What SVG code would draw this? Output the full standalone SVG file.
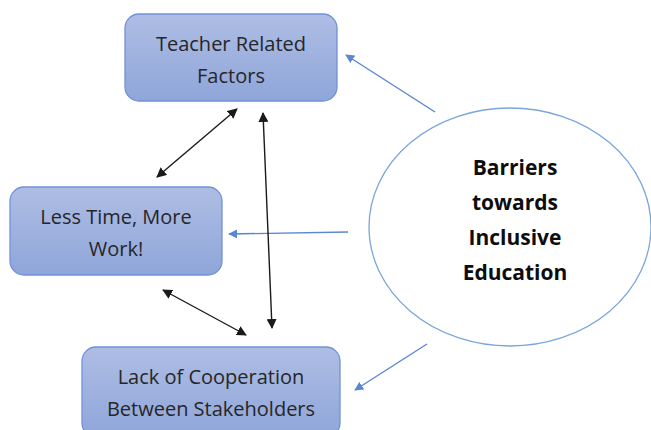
<svg xmlns="http://www.w3.org/2000/svg" width="651" height="430" viewBox="0 0 651 430">
  <style>
    .box { fill: url(#boxFill); stroke: #7092d6; stroke-width: 1.3; }
    .lbl { font-family: "Open Sans", "Liberation Sans", sans-serif; font-size: 20px; fill: #262626; text-anchor: middle; }
    .hub { font-family: "Open Sans", "Liberation Sans", sans-serif; font-size: 21px; font-weight: bold; fill: #0d0d0d; text-anchor: middle; }
    .blue { stroke: #5b86d1; stroke-width: 1.4; fill: none; marker-end: url(#blueHead); }
    .black { stroke: #1a1a1a; stroke-width: 1.4; fill: none; marker-start: url(#blackTail); marker-end: url(#blackHead); }
  </style>
  <defs>
    <linearGradient id="boxFill" x1="0" y1="0" x2="0" y2="1">
      <stop offset="0" stop-color="#aebde4"/>
      <stop offset="1" stop-color="#8fa6da"/>
    </linearGradient>
    <marker id="blueHead" viewBox="0 0 10 10" refX="9" refY="5" markerWidth="9" markerHeight="9" markerUnits="userSpaceOnUse" orient="auto">
      <path d="M0,0 L10,5 L0,10 z" fill="#5b86d1"/>
    </marker>
    <marker id="blackHead" viewBox="0 0 10 10" refX="9" refY="5" markerWidth="10" markerHeight="10" markerUnits="userSpaceOnUse" orient="auto">
      <path d="M0,0 L10,5 L0,10 z" fill="#1a1a1a"/>
    </marker>
    <marker id="blackTail" viewBox="0 0 10 10" refX="1" refY="5" markerWidth="10" markerHeight="10" markerUnits="userSpaceOnUse" orient="auto">
      <path d="M10,0 L0,5 L10,10 z" fill="#1a1a1a"/>
    </marker>
  </defs>

  <g id="teacher">
    <rect class="box" x="125" y="14" width="212" height="87" rx="14"/>
    <text class="lbl" x="231" y="51">Teacher Related</text>
    <text class="lbl" x="231" y="83">Factors</text>
  </g>

  <g id="time">
    <rect class="box" x="10" y="187" width="212" height="88" rx="14"/>
    <text class="lbl" x="116" y="224">Less Time, More</text>
    <text class="lbl" x="116" y="256">Work!</text>
  </g>

  <g id="cooperation">
    <rect class="box" x="82" y="347" width="258" height="90" rx="14"/>
    <text class="lbl" x="211" y="384">Lack of Cooperation</text>
    <text class="lbl" x="211" y="416">Between Stakeholders</text>
  </g>

  <g id="barriers">
    <ellipse cx="510" cy="227" rx="141" ry="119" fill="#ffffff" stroke="#7aa6dc" stroke-width="1.3"/>
    <text class="hub" x="515" y="175">Barriers</text>
    <text class="hub" x="515" y="210">towards</text>
    <text class="hub" x="515" y="245">Inclusive</text>
    <text class="hub" x="515" y="280">Education</text>
  </g>

  <g id="connectors">
    <line class="blue" x1="435" y1="112" x2="346" y2="55"/>
    <line class="blue" x1="348" y1="232" x2="229" y2="234"/>
    <line class="blue" x1="427" y1="344" x2="355" y2="390"/>
    <line class="black" x1="157" y1="177" x2="237" y2="109"/>
    <line class="black" x1="263" y1="113" x2="272" y2="328"/>
    <line class="black" x1="163" y1="290" x2="246" y2="335"/>
  </g>
</svg>
